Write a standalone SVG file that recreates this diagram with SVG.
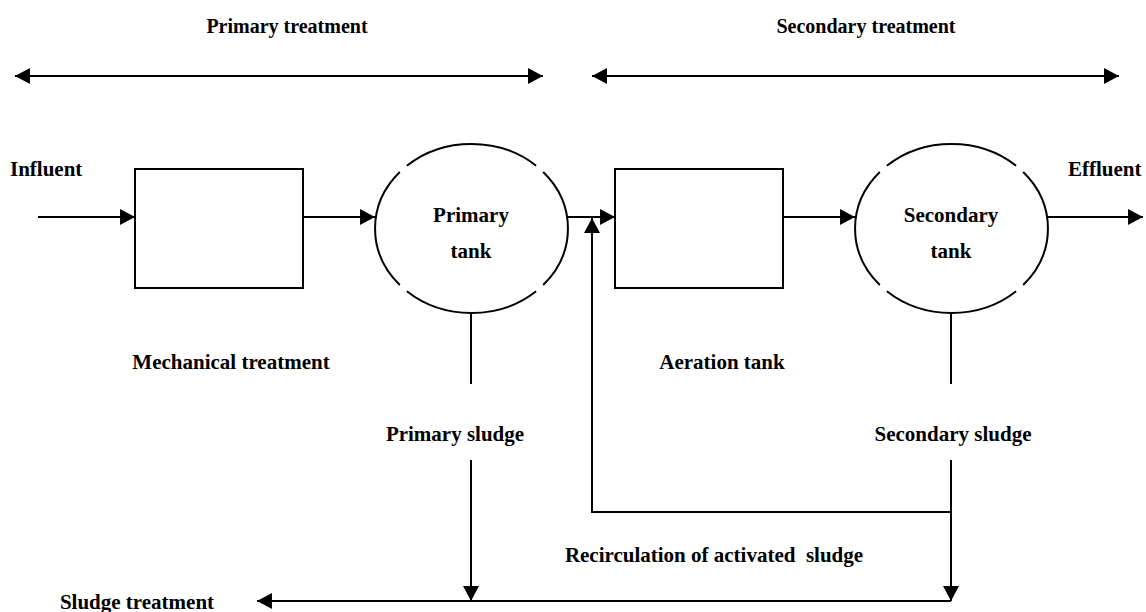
<svg xmlns="http://www.w3.org/2000/svg" width="1146" height="612" viewBox="0 0 1146 612">
<style>
  text { font-family: "Liberation Serif", "Times New Roman", serif; font-weight: bold; font-size: 21px; fill: #000; }
  .c { text-anchor: middle; }
  .hd { font-size: 20px; }
  .ln { fill: none; stroke: #000; stroke-width: 2; }
  .box { fill: #fff; stroke: #000; stroke-width: 2; }
</style>
<defs>
  <marker id="ah" viewBox="0 0 15 16" refX="15" refY="8" markerWidth="15" markerHeight="16" markerUnits="userSpaceOnUse" orient="auto-start-reverse">
    <path d="M0,0 L15,8 L0,16 Z" fill="#000"/>
  </marker>
</defs>
<rect width="1146" height="612" fill="#fff"/>

<g id="connectors">
  <line class="ln" x1="15" y1="76" x2="543" y2="76" marker-start="url(#ah)" marker-end="url(#ah)"/>
  <line class="ln" x1="592" y1="76" x2="1119" y2="76" marker-start="url(#ah)" marker-end="url(#ah)"/>
  <line class="ln" x1="38" y1="217" x2="135" y2="217" marker-end="url(#ah)"/>
  <line class="ln" x1="303" y1="217" x2="375" y2="217" marker-end="url(#ah)"/>
  <line class="ln" x1="568" y1="217" x2="615" y2="217" marker-end="url(#ah)"/>
  <line class="ln" x1="783" y1="217" x2="855" y2="217" marker-end="url(#ah)"/>
  <line class="ln" x1="1048" y1="217" x2="1143" y2="217" marker-end="url(#ah)"/>
  <line class="ln" x1="471" y1="313" x2="471" y2="384"/>
  <line class="ln" x1="951" y1="313" x2="951" y2="384"/>
  <line class="ln" x1="471" y1="460" x2="471" y2="601" marker-end="url(#ah)"/>
  <line class="ln" x1="951" y1="460" x2="951" y2="601" marker-end="url(#ah)"/>
  <polyline class="ln" points="951,512 592,512 592,218" marker-end="url(#ah)"/>
  <line class="ln" x1="951" y1="601" x2="257" y2="601" marker-end="url(#ah)"/>
</g>

<g id="mechanical">
  <rect class="box" x="135" y="169" width="168" height="119"/>
  <text x="231" y="369" class="c">Mechanical treatment</text>
</g>

<g id="primary-tank">
  <path class="ln" d="M543.2,172 A96.5,84.5 0 0 1 543.2,285 M536.1,291.3 A96.5,84.5 0 0 1 406.9,291.3 M399.8,285 A96.5,84.5 0 0 1 399.8,172 M406.9,165.7 A96.5,84.5 0 0 1 536.1,165.7"/>
  <text x="471" y="222" class="c">Primary</text>
  <text x="471" y="258" class="c">tank</text>
</g>

<g id="aeration">
  <rect class="box" x="615" y="169" width="168" height="119"/>
  <text x="722" y="369" class="c">Aeration tank</text>
</g>

<g id="secondary-tank">
  <path class="ln" d="M1023.2,172 A96.5,84.5 0 0 1 1023.2,285 M1016.1,291.3 A96.5,84.5 0 0 1 886.9,291.3 M879.8,285 A96.5,84.5 0 0 1 879.8,172 M886.9,165.7 A96.5,84.5 0 0 1 1016.1,165.7"/>
  <text x="951" y="222" class="c">Secondary</text>
  <text x="951" y="258" class="c">tank</text>
</g>

<g id="labels">
  <text x="287" y="33" class="c hd">Primary treatment</text>
  <text x="866" y="33" class="c hd">Secondary treatment</text>
  <text x="10" y="176">Influent</text>
  <text x="1068" y="176">Effluent</text>
  <text x="455" y="441" class="c">Primary sludge</text>
  <text x="953" y="441" class="c">Secondary sludge</text>
  <text x="714" y="562" class="c" xml:space="preserve">Recirculation of activated  sludge</text>
  <text x="137" y="609" class="c">Sludge treatment</text>
</g>
</svg>
